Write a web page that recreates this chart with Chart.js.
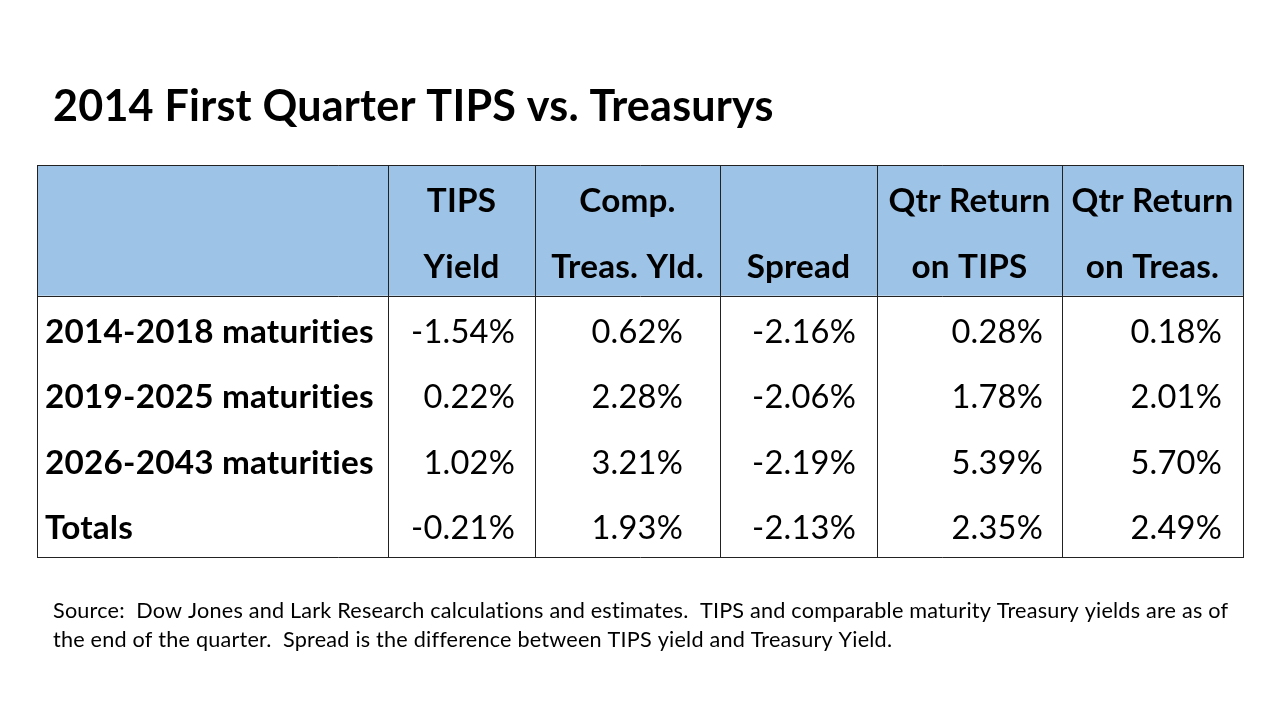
<!DOCTYPE html>
<html>
<head>
<meta charset="utf-8">
<script src="https://cdn.jsdelivr.net/npm/chart.js@4/dist/chart.umd.min.js"></script>
<style>
html,body{margin:0;padding:0;background:#fff;}
canvas{display:block;}
</style>
</head>
<body>
<canvas id="c" width="1280" height="720"></canvas>
<script>
// ---- data ----
const title = "2014 First Quarter TIPS vs. Treasurys";
const headerLine1 = ["", "TIPS", "Comp.", "", "Qtr Return", "Qtr Return"];
const headerLine2 = ["", "Yield", "Treas. Yld.", "Spread", "on TIPS", "on Treas."];
const rowLabels = ["2014-2018 maturities", "2019-2025 maturities", "2026-2043 maturities", "Totals"];
const tipsYield = ["-1.54%", "0.22%", "1.02%", "-0.21%"];
const compTreasYield = ["0.62%", "2.28%", "3.21%", "1.93%"];
const spread = ["-2.16%", "-2.06%", "-2.19%", "-2.13%"];
const qtrReturnTips = ["0.28%", "1.78%", "5.39%", "2.35%"];
const qtrReturnTreas = ["0.18%", "2.01%", "5.70%", "2.49%"];
const sourceLines = [
  "Source:  Dow Jones and Lark Research calculations and estimates.  TIPS and comparable maturity Treasury yields are as of",
  "the end of the quarter.  Spread is the difference between TIPS yield and Treasury Yield."
];
const yCategories = ["h1", "h2", "r1", "r2", "r3", "r4"];

// ---- layout (not data) ----
const colEdges = [0, 351, 498, 683, 840, 1025, 1206];
const rightPad = [0, 20, 37, 21, 19, 21];
const FAMILY = "Lato, 'Open Sans', sans-serif";
const TEXT_DY = 4;

function fitSize(ctx, weight, text, target, base) {
  ctx.font = weight + " " + base + "px " + FAMILY;
  const w = ctx.measureText(text).width;
  return base * target / w;
}

const tablePlugin = {
  id: 'tablePlugin',
  afterDraw(chart) {
    const ctx = chart.ctx;
    const xs = chart.scales.x, ys = chart.scales.y;
    const X = v => xs.getPixelForValue(v);
    const Y = v => ys.getPixelForValue(v);
    const cols = [null, tipsYield, compTreasYield, spread, qtrReturnTips, qtrReturnTreas];
    ctx.save();
    try { ctx.letterSpacing = "0.2px"; } catch (e) {}
    // header background
    ctx.fillStyle = "#9DC3E6";
    ctx.fillRect(X(0), Y(-0.5), X(1206) - X(0), Y(1.5) - Y(-0.5));

    // sizes
    const bodySize = fitSize(ctx, "bold", "2014-2018 maturities", 329, 32);
    const numSize = fitSize(ctx, "normal", "-1.54%", 104, 32);
    const headSize = fitSize(ctx, "bold", "Qtr Return", 162, 32);

    ctx.fillStyle = "#000";
    ctx.textBaseline = "middle";
    // header text
    ctx.font = "bold " + headSize + "px " + FAMILY;
    ctx.textAlign = "center";
    for (let c = 0; c < headerLine1.length; c++) {
      const cx = (X(colEdges[c]) + X(colEdges[c + 1])) / 2;
      if (headerLine1[c]) ctx.fillText(headerLine1[c], cx, Y(0) + TEXT_DY);
      if (headerLine2[c]) ctx.fillText(headerLine2[c], cx, Y(1) + TEXT_DY);
    }
    // row labels
    ctx.font = "bold " + bodySize + "px " + FAMILY;
    ctx.textAlign = "left";
    rowLabels.forEach((t, r) => ctx.fillText(t, X(colEdges[0]) + 8, Y(r + 2) + TEXT_DY));
    // values
    ctx.font = "normal " + numSize + "px " + FAMILY;
    ctx.textAlign = "right";
    for (let c = 1; c < cols.length; c++) {
      cols[c].forEach((t, r) => ctx.fillText(t, X(colEdges[c + 1]) - rightPad[c], Y(r + 2) + TEXT_DY));
    }

    // grid lines
    ctx.strokeStyle = "#222";
    ctx.lineWidth = 1;
    const top = Y(-0.5), bot = Y(5.5), hb = Y(1.5);
    ctx.beginPath();
    colEdges.forEach(e => { const x = Math.round(X(e)) + 0.5; ctx.moveTo(x, top); ctx.lineTo(x, bot); });
    [top, hb, bot].forEach(y => { const yy = Math.round(y) + 0.5; ctx.moveTo(X(0), yy); ctx.lineTo(X(1206) + 1, yy); });
    ctx.stroke();

    // title
    const titleSize = fitSize(ctx, "bold", title, 722, 38);
    ctx.font = "bold " + titleSize + "px " + FAMILY;
    ctx.textAlign = "left";
    ctx.textBaseline = "alphabetic";
    ctx.fillText(title, 53, 121);

    // source
    const srcSize = fitSize(ctx, "normal", sourceLines[0], 1181, 18);
    ctx.font = "normal " + srcSize + "px " + FAMILY;
    ctx.textBaseline = "middle";
    ctx.fillText(sourceLines[0], 53, 611);
    ctx.fillText(sourceLines[1], 53, 640);
    ctx.restore();
  }
};

new Chart(document.getElementById('c'), {
  type: 'scatter',
  data: { labels: yCategories, datasets: [{ data: [] }] },
  options: {
    responsive: false,
    animation: false,
    events: [],
    layout: { padding: { left: 37, top: 165, right: 37, bottom: 163 } },
    plugins: { legend: { display: false }, tooltip: { enabled: false } },
    scales: {
      x: { type: 'linear', min: 0, max: 1206, display: false },
      y: { type: 'category', labels: yCategories, offset: true, display: false }
    }
  },
  plugins: [tablePlugin]
});
</script>
</body>
</html>
